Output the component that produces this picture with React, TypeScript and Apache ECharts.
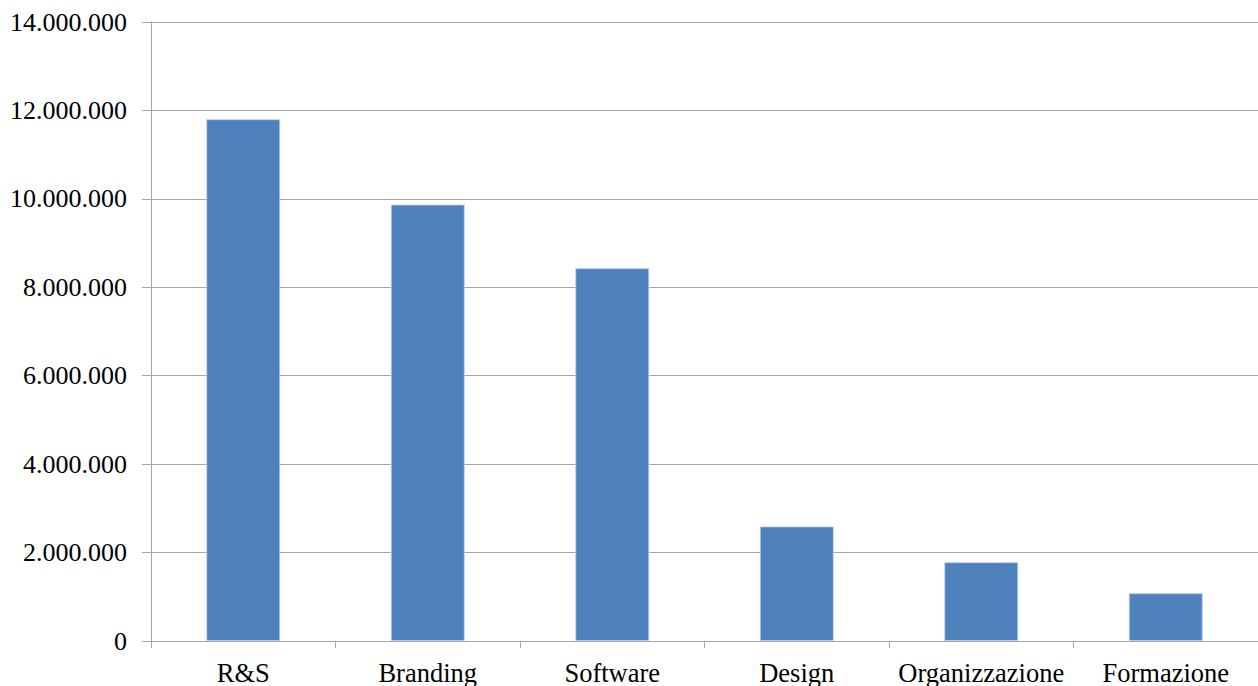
import React, { useEffect, useRef } from "react";
import * as echarts from "echarts";

const categories = ["R&S", "Branding", "Software", "Design", "Organizzazione", "Formazione"];
const values = [11800000, 9870000, 8430000, 2590000, 1780000, 1080000];
const yTicks = { min: 0, max: 14000000, interval: 2000000 };

const fmt = (v: number) => String(Math.round(v)).replace(/\B(?=(\d{3})+(?!\d))/g, ".");

export default function App() {
  const ref = useRef<HTMLDivElement>(null);
  useEffect(() => {
    document.body.style.margin = "0";
    const chart = echarts.init(ref.current!, null, { renderer: "svg" });
    const font = "'Liberation Serif', 'Times New Roman', serif";
    chart.setOption({
      animation: false,
      backgroundColor: "#ffffff",
      grid: { left: 151, right: 0, top: 22, bottom: 45, containLabel: false },
      xAxis: {
        type: "category",
        data: categories,
        axisLine: { show: true, lineStyle: { color: "#a6a6a6", width: 1 } },
        axisTick: { show: true, length: 7, lineStyle: { color: "#a6a6a6" } },
        axisLabel: { color: "#000", fontFamily: font, fontSize: 26.5, margin: 18, interval: 0 },
      },
      yAxis: {
        type: "value",
        min: yTicks.min,
        max: yTicks.max,
        interval: yTicks.interval,
        axisLine: { show: true, lineStyle: { color: "#a6a6a6", width: 1 } },
        axisTick: { show: true, length: 9, lineStyle: { color: "#a6a6a6" } },
        splitLine: { show: true, lineStyle: { color: "#a6a6a6", width: 1 } },
        axisLabel: {
          color: "#000",
          fontFamily: font,
          fontSize: 26,
          margin: 24,
          formatter: (v: number) => fmt(v),
        },
      },
      series: [
        {
          type: "bar",
          data: values,
          barWidth: "40%",
          itemStyle: { color: "#4f81bd", borderColor: "#bcd0e8", borderWidth: 0.8 },
        },
      ],
    });
    return () => chart.dispose();
  }, []);
  return <div ref={ref} style={{ width: 1258, height: 686 }} />;
}
